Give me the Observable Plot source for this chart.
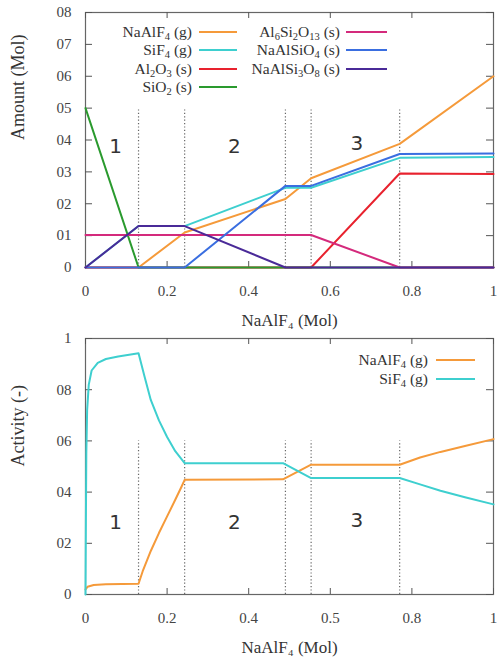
<!DOCTYPE html>
<html>
<head>
<meta charset="utf-8">
<script src="https://cdn.jsdelivr.net/npm/d3@7"></script>
<script src="https://cdn.jsdelivr.net/npm/@observablehq/plot@0.6"></script>
<style>
  body { margin: 0; background: #fff; }
  #wrap { position: relative; width: 497px; height: 664px; overflow: hidden; font-family: "Liberation Serif", "Times New Roman", serif; color: #333; }
  #wrap svg { position: absolute; left: 0; }
  .lg { position: absolute; font-family: "Liberation Serif", "Times New Roman", serif; font-size: 15.5px; line-height: 18px; white-space: nowrap; text-align: right; color: #333; }
  .lg sub { font-size: 10.5px; vertical-align: -3px; line-height: 0; }
  .sw { position: absolute; height: 2px; }
</style>
</head>
<body>
<div id="wrap"></div>
<script>
// ---------- data ----------
const xTicks = [0, 0.2, 0.4, 0.6, 0.8, 1];
const topXLabels = ["0", "0.2", "0.4", "0.6", "0.8", "1"];
const bottomXLabels = ["0", "0.2", "0.4", "0.5", "0.8", "1"];
const topYTicks = [0, 0.1, 0.2, 0.3, 0.4, 0.5, 0.6, 0.7, 0.8];
const topYLabels = ["0", "01", "02", "03", "04", "05", "06", "07", "08"];
const bottomYTicks = [0, 0.2, 0.4, 0.6, 0.8, 1];
const bottomYLabels = ["0", "02", "04", "06", "08", "1"];

const boundaries = [0.13, 0.243, 0.49, 0.553, 0.77];
const regionNames = ["1", "2", "3"];
const regionX = [0.074, 0.365, 0.665];
const regionYTop = [0.38, 0.38, 0.39];
const regionYBottom = [0.28, 0.28, 0.29];

// Amount (Mol)
const amtNaAlF4 = [[0, 0], [0.13, 0], [0.243, 0.11], [0.49, 0.215], [0.553, 0.28], [0.77, 0.388], [1, 0.6]];
const amtSiF4 = [[0, 0], [0.13, 0.13], [0.243, 0.13], [0.49, 0.25], [0.553, 0.25], [0.77, 0.344], [1, 0.347]];
const amtAl2O3 = [[0, 0], [0.553, 0], [0.77, 0.295], [1, 0.293]];
const amtSiO2 = [[0, 0.5], [0.13, 0], [1, 0]];
const amtAl6Si2O13 = [[0, 0.102], [0.553, 0.102], [0.77, 0], [1, 0]];
const amtNaAlSiO4 = [[0, 0], [0.243, 0], [0.49, 0.256], [0.553, 0.256], [0.77, 0.356], [1, 0.358]];
const amtNaAlSi3O8 = [[0, 0], [0.13, 0.13], [0.243, 0.13], [0.49, 0], [1, 0]];

// Activity (-)
const actNaAlF4 = [[0, 0.02], [0.005, 0.03], [0.02, 0.037], [0.05, 0.04], [0.13, 0.042], [0.14, 0.09], [0.16, 0.17], [0.18, 0.24], [0.2, 0.305], [0.22, 0.37], [0.235, 0.42], [0.243, 0.448], [0.484, 0.45], [0.553, 0.507], [0.77, 0.507], [0.82, 0.535], [0.87, 0.557], [0.93, 0.58], [1, 0.607]];
const actSiF4 = [[0, 0], [0.001, 0.3], [0.002, 0.55], [0.004, 0.72], [0.008, 0.82], [0.015, 0.875], [0.03, 0.905], [0.05, 0.92], [0.08, 0.93], [0.13, 0.942], [0.145, 0.85], [0.16, 0.76], [0.18, 0.68], [0.2, 0.615], [0.22, 0.56], [0.243, 0.513], [0.484, 0.513], [0.553, 0.455], [0.77, 0.455], [0.82, 0.43], [0.87, 0.405], [0.93, 0.38], [1, 0.352]];

const topSeries = [amtNaAlF4, amtSiF4, amtAl2O3, amtSiO2, amtAl6Si2O13, amtNaAlSiO4, amtNaAlSi3O8];
const topNames = ["NaAlF<sub>4</sub> (g)", "SiF<sub>4</sub> (g)", "Al<sub>2</sub>O<sub>3</sub> (s)", "SiO<sub>2</sub> (s)", "Al<sub>6</sub>Si<sub>2</sub>O<sub>13</sub> (s)", "NaAlSiO<sub>4</sub> (s)", "NaAlSi<sub>3</sub>O<sub>8</sub> (s)"];
const topColors = ["#f59a3a", "#3ecfcf", "#e8222e", "#2a9a2e", "#d42a7c", "#3a6ee0", "#4a2a98"];
const bottomSeries = [actNaAlF4, actSiF4];
const bottomNames = ["NaAlF<sub>4</sub> (g)", "SiF<sub>4</sub> (g)"];
const bottomColors = ["#f59a3a", "#3ecfcf"];

// ---------- chart ----------
const W = 497, ML = 85, MR = 4;
const frameW = W - ML - MR;
const serif = "'Liberation Serif', 'Times New Roman', serif";

function panel({top, height, mt, mb, yDomain, yTicks, yLabels, xLabels, series, colors, ruleTop, regionY, yTitle}) {
  const frameH = height - mt - mb;
  const marks = [
    Plot.frame({stroke: "#666", strokeWidth: 1.2}),
    Plot.tickX(xTicks, {x: d => d, insetTop: frameH - 6, stroke: "#555"}),
    Plot.tickX(xTicks, {x: d => d, insetBottom: frameH - 6, stroke: "#555"}),
    Plot.tickY(yTicks, {y: d => d, insetRight: frameW - 7, stroke: "#555"}),
    Plot.tickY(yTicks, {y: d => d, insetLeft: frameW - 7, stroke: "#555"}),
    Plot.axisX(xTicks, {tickSize: 0, tickPadding: 18, tickFormat: d => xLabels[xTicks.indexOf(d)], fontSize: 15, fontFamily: serif, fill: "#444"}),
    Plot.axisY(yTicks, {tickSize: 0, tickPadding: 14, tickFormat: d => yLabels[yTicks.indexOf(d)], fontSize: 15, fontFamily: serif, fill: "#444"}),
    Plot.ruleX(boundaries, {x: d => d, y1: yDomain[0], y2: ruleTop, stroke: "#666", strokeDasharray: "1.2,2.2", strokeWidth: 1.2}),
    Plot.text(regionNames, {x: (d, i) => regionX[i], y: (d, i) => regionY[i], text: d => d, fontFamily: "'DejaVu Sans', sans-serif", fontSize: 20, fill: "#333"}),
    ...series.map((s, i) => Plot.line(s, {x: d => d[0], y: d => d[1], stroke: colors[i], strokeWidth: 2})),
    Plot.text([yTitle], {frameAnchor: "left", dx: -67, rotate: -90, fontSize: 18, fontFamily: serif, fill: "#333"}),
    Plot.text(["NaAlF₄ (Mol)"], {frameAnchor: "bottom", dy: 58, fontSize: 17, fontFamily: serif, fill: "#333"})
  ];
  const svg = Plot.plot({
    width: W, height, marginLeft: ML, marginRight: MR, marginTop: mt, marginBottom: mb,
    x: {domain: [0, 1]}, y: {domain: yDomain},
    style: {fontFamily: serif, color: "#333", background: "transparent"},
    marks
  });
  svg.style.top = top + "px";
  return svg;
}

const wrap = document.getElementById("wrap");
wrap.appendChild(panel({top: 0, height: 337, mt: 12, mb: 70, yDomain: [0, 0.8], yTicks: topYTicks, yLabels: topYLabels, xLabels: topXLabels, series: topSeries, colors: topColors, ruleTop: 0.5, regionY: regionYTop, yTitle: "Amount (Mol)"}));
wrap.appendChild(panel({top: 317, height: 347, mt: 21, mb: 70, yDomain: [0, 1], yTicks: bottomYTicks, yLabels: bottomYLabels, xLabels: bottomXLabels, series: bottomSeries, colors: bottomColors, ruleTop: 0.6, regionY: regionYBottom, yTitle: "Activity (-)"}));

// ---------- legends (HTML overlay) ----------
function legendEntry(html, color, textRight, lineLeft, lineW, yc) {
  const t = document.createElement("div");
  t.className = "lg";
  t.innerHTML = html;
  t.style.right = (W - textRight) + "px";
  t.style.top = (yc - 9) + "px";
  wrap.appendChild(t);
  const s = document.createElement("div");
  s.className = "sw";
  s.style.left = lineLeft + "px";
  s.style.width = lineW + "px";
  s.style.top = (yc - 1) + "px";
  s.style.background = color;
  wrap.appendChild(s);
}
const rowsTop = [32, 50, 69, 87];
topNames.forEach((n, i) => {
  if (i < 4) legendEntry(n, topColors[i], 192, 199, 38, rowsTop[i]);
  else legendEntry(n, topColors[i], 340, 346, 41, rowsTop[i - 4]);
});
bottomNames.forEach((n, i) => legendEntry(n, bottomColors[i], 428, 436, 39, [360, 379][i]));
</script>
</body>
</html>
